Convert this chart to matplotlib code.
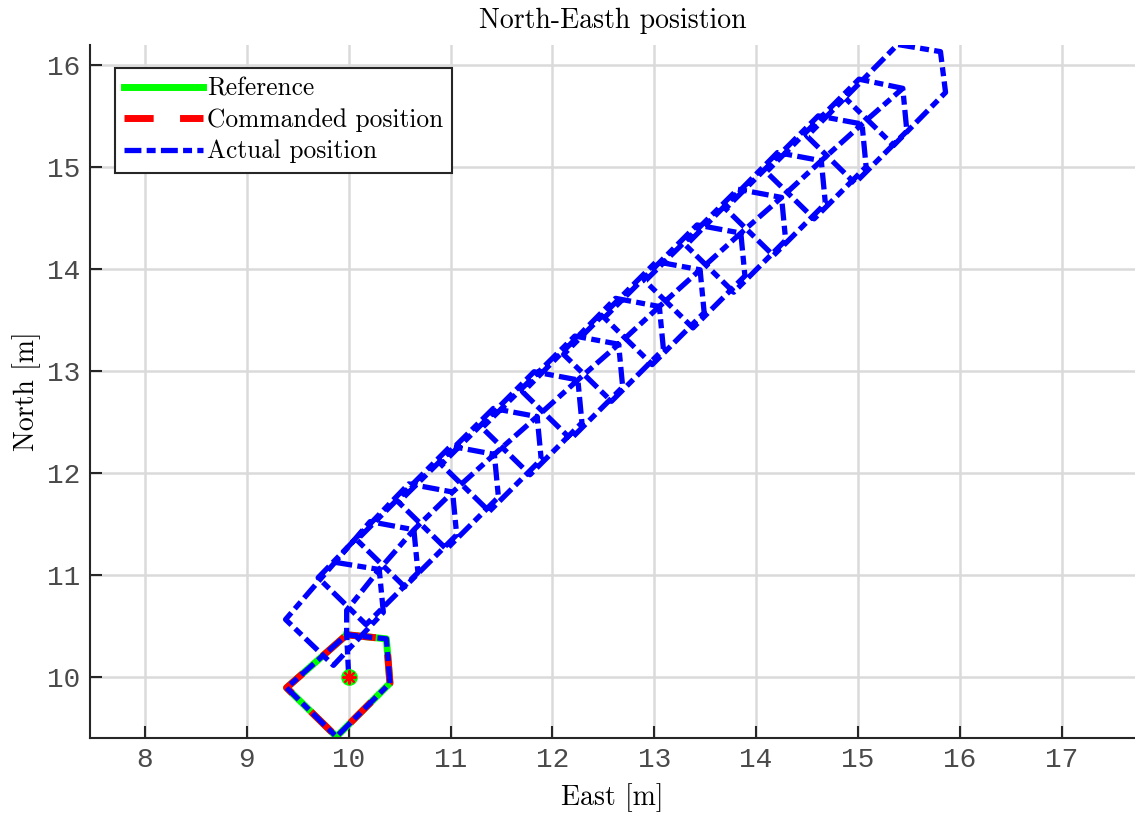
import matplotlib.pyplot as plt
import numpy as np

# Reference / commanded pentagon [m]
ref_east = [9.98, 10.37, 10.405, 9.88, 9.39, 9.98]
ref_north = [10.41, 10.37, 9.935, 9.41, 9.89, 10.41]

# start of the actual track: take-off point, first loop on the reference, climb
start_east = [10.0, 9.98, 10.37, 10.405, 9.88, 9.39, 9.98, 9.98]
start_north = [10.0, 10.41, 10.37, 9.935, 9.41, 9.89, 10.41, 10.65]

# actual position, corners of each drifted loop
top_east = [9.87, 10.21, 10.59, 11.00, 11.42, 11.82, 12.22, 12.62, 13.02, 13.42, 13.82, 14.21, 14.61, 15.01, 15.39]
top_north = [11.12, 11.52, 11.89, 12.26, 12.63, 12.99, 13.34, 13.71, 14.07, 14.43, 14.78, 15.14, 15.50, 15.86, 16.20]
tip_east = [10.30, 10.64, 11.02, 11.43, 11.85, 12.25, 12.65, 13.05, 13.45, 13.85, 14.25, 14.64, 15.04, 15.44, 15.81]
tip_north = [11.05, 11.44, 11.81, 12.18, 12.55, 12.91, 13.26, 13.63, 13.99, 14.35, 14.70, 15.06, 15.42, 15.77, 16.13]
right_east = [10.34, 10.68, 11.06, 11.47, 11.89, 12.29, 12.69, 13.09, 13.49, 13.89, 14.29, 14.68, 15.08, 15.48, 15.86]
right_north = [10.63, 11.02, 11.39, 11.76, 12.13, 12.49, 12.84, 13.21, 13.57, 13.93, 14.28, 14.64, 15.00, 15.35, 15.73]
bottom_east = [9.85, 10.17, 10.55, 10.96, 11.38, 11.78, 12.18, 12.58, 12.98, 13.38, 13.78, 14.17, 14.57, 14.97, 15.35]
bottom_north = [10.11, 10.51, 10.88, 11.25, 11.62, 11.98, 12.33, 12.70, 13.06, 13.42, 13.77, 14.13, 14.49, 14.84, 15.21]
left_east = [9.38, 9.70, 10.08, 10.49, 10.91, 11.31, 11.71, 12.11, 12.51, 12.91, 13.31, 13.70, 14.10, 14.50, 14.88]
left_north = [10.56, 10.97, 11.34, 11.71, 12.08, 12.44, 12.79, 13.16, 13.52, 13.88, 14.23, 14.59, 14.95, 15.30, 15.67]

# build the actual track: start + drift line through the tips, then the loops
act_e = start_east + tip_east[:-1] + [np.nan]
act_n = start_north + tip_north[:-1] + [np.nan]
for k in range(len(top_east)):
    act_e += [top_east[k], tip_east[k], right_east[k], bottom_east[k], left_east[k]]
    act_n += [top_north[k], tip_north[k], right_north[k], bottom_north[k], left_north[k]]

serif = 'cmr10'
mono = 'Liberation Mono'
axcol = '#262626'

fig = plt.figure(figsize=(11.35, 8.14), dpi=100)
ax = fig.add_axes([90/1135, 0.0937, 1045/1135, 0.851])

ax.plot(ref_east, ref_north, '-', color='#00ff00', lw=5, label='Reference')
ax.plot(ref_east, ref_north, color='red', lw=5, ls=(0, (4.2, 3.8)), label='Commanded position')
ax.plot(act_e, act_n, color='blue', lw=3.8, ls=(0, (3.2, 1.0, 1.7, 1.0)), label='Actual position')
ax.plot(start_east[0], start_north[0], 'o', color='#00ff00', ms=11)
ax.plot(start_east[0], start_north[0], marker=(8, 2, 0), color='red', ms=10, mew=1.5, ls='none')

ax.set_xlim(7.46, 17.72)
ax.set_ylim(9.40, 16.195)
ax.set_xticks(range(8, 18))
ax.set_yticks(range(10, 17))

ax.grid(True, color='#dadada', lw=1.8)
ax.set_axisbelow(True)
for s in ['top', 'right']:
    ax.spines[s].set_visible(False)
for s in ['left', 'bottom']:
    ax.spines[s].set_color(axcol)
    ax.spines[s].set_linewidth(1.5)
ax.tick_params(direction='in', length=8.5, width=1.5, color=axcol, labelcolor='#4a4a4a',
               labelsize=20, pad=7)
for lab in ax.get_xticklabels() + ax.get_yticklabels():
    lab.set_fontfamily(mono)

ax.set_title('North-Easth posistion', family=serif, fontsize=20, pad=12)
ax.set_xlabel('East [m]', family=serif, fontsize=20, labelpad=7)
ax.set_ylabel('North [m]', family=serif, fontsize=20, labelpad=4)

leg = ax.legend(loc='upper left', bbox_to_anchor=(0.024, 0.967), borderaxespad=0,
                prop={'family': serif, 'size': 18.3}, handlelength=3.1, handletextpad=0.15,
                labelspacing=0.3, borderpad=0.36, fancybox=False, framealpha=1)
leg.get_frame().set_edgecolor(axcol)
leg.get_frame().set_linewidth(1.5)

fig.savefig('out.png', dpi=100)
